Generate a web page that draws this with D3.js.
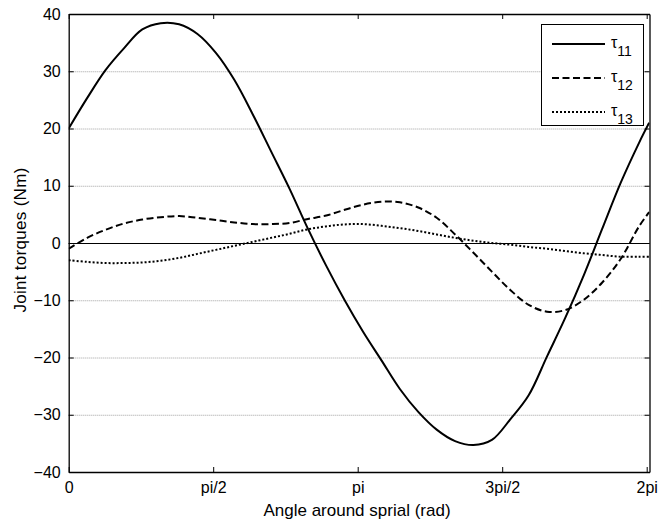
<!DOCTYPE html>
<html><head><meta charset="utf-8">
<script src="https://cdn.jsdelivr.net/npm/d3@7"></script>
<style>
html,body{margin:0;padding:0;background:#fff;}
svg{display:block;font-family:"Liberation Sans",Arial,sans-serif;}
</style></head>
<body><svg id="c" width="658" height="523"></svg>
<script>
// ---- data ----
const angles = [0,0.2,0.4,0.6,0.8,1.0,1.2,1.4,1.6,1.8,2.0,2.2,2.4,2.6,2.8,3.0,3.2,3.4,3.6,3.8,4.0,4.2,4.4,4.6,4.8,5.0,5.2,5.4,5.6,5.8,6.0,6.2,6.31];
const tau11 = [20,25.3,30.2,34.0,37.3,38.4,38.2,36.5,33.2,28.5,22.5,16,9.5,2.5,-4,-10,-15.5,-20.5,-25.5,-29.5,-32.6,-34.6,-35.3,-34.4,-30.8,-26.6,-19.8,-13,-5.6,2.5,10.5,17.5,21];
const tau12 = [-1.0,0.9,2.3,3.4,4.1,4.5,4.7,4.4,4.0,3.6,3.3,3.3,3.5,4.2,4.8,5.8,6.7,7.2,7.1,6.2,4.4,1.5,-1.7,-5.0,-8.2,-10.8,-12.0,-11.7,-9.9,-6.9,-2.8,2.9,5.4];
const tau13 = [-3.0,-3.3,-3.5,-3.5,-3.4,-3.1,-2.6,-1.9,-1.2,-0.5,0.2,0.9,1.6,2.4,2.9,3.25,3.3,3.0,2.6,2.1,1.5,0.9,0.4,0.0,-0.3,-0.7,-1.0,-1.4,-1.8,-2.1,-2.4,-2.4,-2.4];
const seriesNames = ["11","12","13"];
const xTickValues = [0, Math.PI/2, Math.PI, 3*Math.PI/2, 2*Math.PI];
const xTickLabels = ["0","pi/2","pi","3pi/2","2pi"];
const yTickValues = [-40,-30,-20,-10,0,10,20,30,40];
const xLabel = "Angle around sprial (rad)";
const yLabel = "Joint torques (Nm)";

// ---- layout ----
const L = 68.7, R = 649.5, T = 14, B = 472;
const xMax = 6.3136;
const svg = d3.select("#c");
const x = d3.scaleLinear().domain([0, xMax]).range([L, R]);
const y = d3.scaleLinear().domain([-40, 40]).range([B, T]);

svg.append("defs").append("clipPath").attr("id","clip")
  .append("rect").attr("x",L).attr("y",T).attr("width",R-L).attr("height",B-T);

// gridlines
svg.append("g").selectAll("line").data(yTickValues.filter(v=>v!==0 && Math.abs(v)!==40)).join("line")
  .attr("x1",L).attr("x2",R).attr("y1",d=>y(d)+0.5).attr("y2",d=>y(d)+0.5)
  .attr("stroke","#a0a0a0").attr("stroke-width",1).attr("stroke-dasharray","1,1");

// zero line
svg.append("line").attr("x1",L).attr("x2",R).attr("y1",Math.round(y(0))+0.5).attr("y2",Math.round(y(0))+0.5)
  .attr("stroke","#000").attr("stroke-width",1.2);

// axes (ticks inward)
const tl = 5;
const gB = svg.append("g").attr("transform",`translate(0,${B})`)
  .call(d3.axisBottom(x).tickValues(xTickValues).tickFormat((d,i)=>xTickLabels[i]).tickSizeInner(-tl).tickSizeOuter(0).tickPadding(10));
const gT = svg.append("g").attr("transform",`translate(0,${T})`)
  .call(d3.axisTop(x).tickValues(xTickValues).tickFormat("").tickSizeInner(-tl).tickSizeOuter(0));
const gL = svg.append("g").attr("transform",`translate(${L},0)`)
  .call(d3.axisLeft(y).tickValues(yTickValues).tickSizeInner(-tl).tickSizeOuter(0).tickPadding(8));
const gR = svg.append("g").attr("transform",`translate(${R},0)`)
  .call(d3.axisRight(y).tickValues(yTickValues).tickFormat("").tickSizeInner(-tl).tickSizeOuter(0));
[gB,gT,gL,gR].forEach(g=>{
  g.selectAll("path.domain").attr("stroke","#000").attr("stroke-width",1.3);
  g.selectAll(".tick line").attr("stroke","#000");
  g.selectAll(".tick text").attr("fill","#000").style("font-size","16px").style("font-family",'"Liberation Sans",Arial,sans-serif');
});
gB.selectAll(".tick text").attr("dy","0.71em");

// axis labels
svg.append("text").attr("x",357).attr("y",516).attr("text-anchor","middle")
  .style("font-size","17px").attr("fill","#000").text(xLabel);
svg.append("text").attr("transform",`translate(26,240) rotate(-90)`).attr("text-anchor","middle")
  .style("font-size","17px").style("letter-spacing","0.3px").attr("fill","#000").text(yLabel);

// lines
const styles = [null, "7,3.5", "2,2"];
const data = [tau11, tau12, tau13];
const line = d3.line().x((d,i)=>x(angles[i])).y(d=>y(d)).curve(d3.curveCatmullRom.alpha(0.5));
const gLines = svg.append("g").attr("clip-path","url(#clip)");
data.forEach((s,k)=>{
  gLines.append("path").datum(s).attr("d",line).attr("fill","none").attr("stroke","#000")
    .attr("stroke-width",2).attr("stroke-dasharray",styles[k]);
});

// legend
const lg = svg.append("g");
lg.append("rect").attr("x",541.5).attr("y",24.5).attr("width",102).attr("height",101)
  .attr("fill","#fff").attr("stroke","#000").attr("stroke-width",1);
seriesNames.forEach((n,k)=>{
  const yy = 44 + k*34;
  lg.append("line").attr("x1",552).attr("x2",605).attr("y1",yy).attr("y2",yy)
    .attr("stroke","#000").attr("stroke-width",2).attr("stroke-dasharray",styles[k]);
  const t = lg.append("text").attr("x",611).attr("y",yy+4).attr("fill","#000").style("font-size","16px");
  t.append("tspan").text("τ");
  t.append("tspan").attr("dy",8).style("font-size","14px").text(n);
});
</script></body></html>
